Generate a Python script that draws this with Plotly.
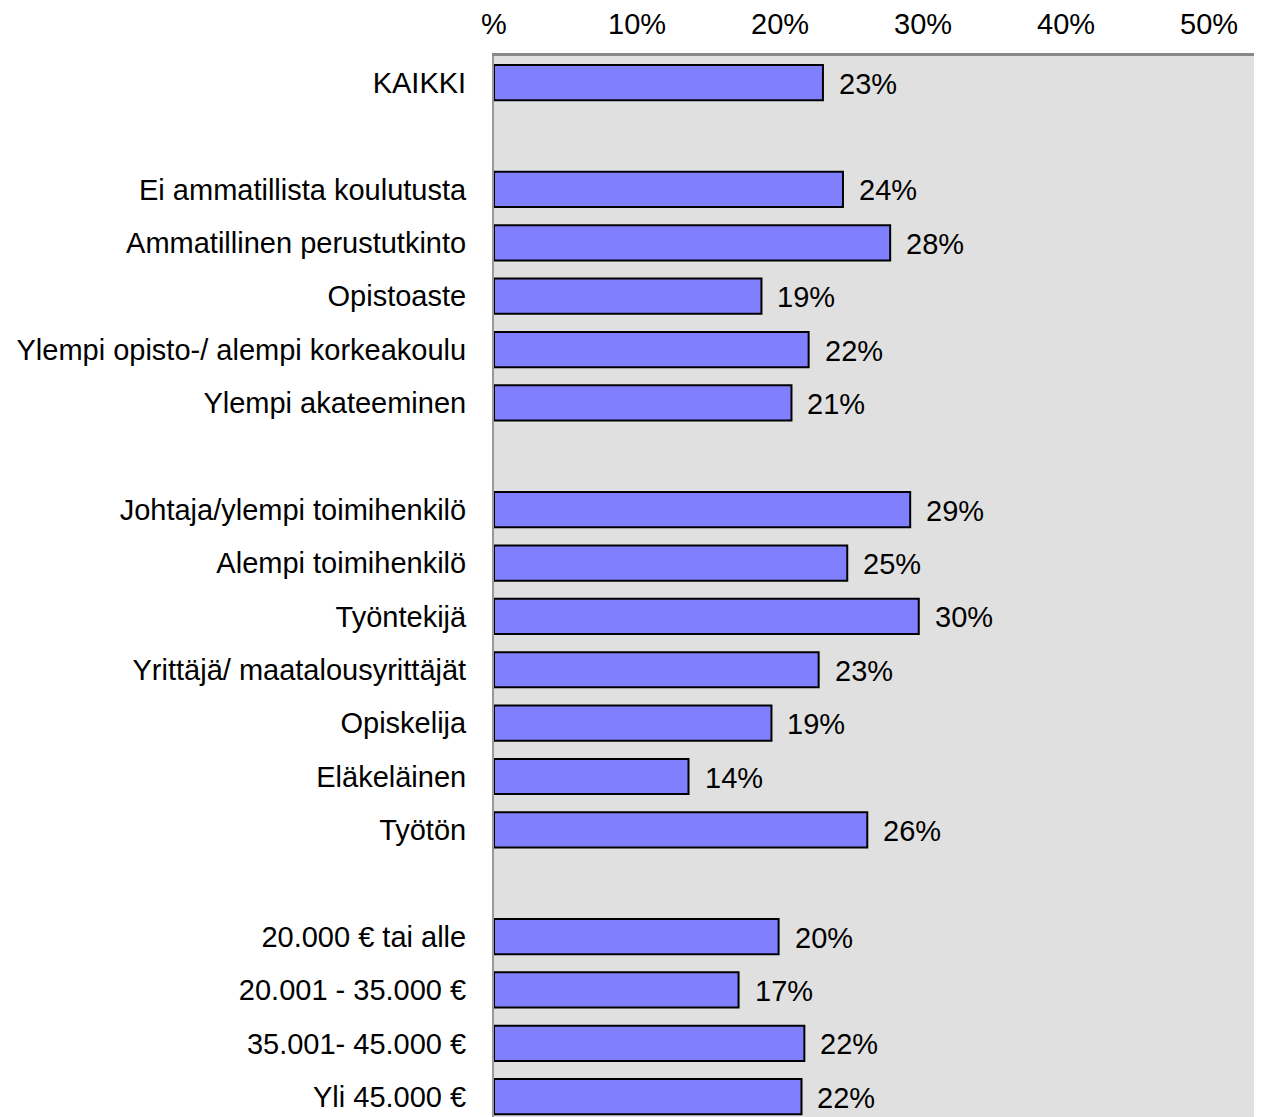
import plotly.graph_objects as go

# Rows top to bottom; blank strings are spacer rows between groups
CATEGORIES = [
    "KAIKKI",
    " ",
    "Ei ammatillista koulutusta",
    "Ammatillinen perustutkinto",
    "Opistoaste",
    "Ylempi opisto-/ alempi korkeakoulu",
    "Ylempi akateeminen",
    "  ",
    "Johtaja/ylempi toimihenkilö",
    "Alempi toimihenkilö",
    "Työntekijä",
    "Yrittäjä/ maatalousyrittäjät",
    "Opiskelija",
    "Eläkeläinen",
    "Työtön",
    "   ",
    "20.000 € tai alle",
    "20.001 - 35.000 €",
    "35.001- 45.000 €",
    "Yli 45.000 €",
]
VALUES = [
    23.0, None,
    24.4, 27.7, 18.7, 22.0, 20.8, None,
    29.1, 24.7, 29.7, 22.7, 19.4, 13.6, 26.1, None,
    19.9, 17.1, 21.7, 21.5,
]
LABELS = [
    "23%", "",
    "24%", "28%", "19%", "22%", "21%", "",
    "29%", "25%", "30%", "23%", "19%", "14%", "26%", "",
    "20%", "17%", "22%", "22%",
]
TICK_VALUES = [0, 10, 20, 30, 40, 50]
TICK_TEXT = ["%", "10%", "20%", "30%", "40%", "50%"]

FONT = "Arial, Liberation Sans, sans-serif"
FONT_SIZE = 29

fig = go.Figure(
    go.Bar(
        x=VALUES,
        y=CATEGORIES,
        orientation="h",
        width=0.66,
        marker={"color": "#8080FF", "line": {"color": "#000000", "width": 2}},
        hoverinfo="skip",
    )
)

for cat, val, lab in zip(CATEGORIES, VALUES, LABELS):
    if val is None:
        continue
    fig.add_annotation(
        x=val, y=cat, text=lab, showarrow=False,
        xanchor="left", xshift=14, yshift=-1,
        font={"size": FONT_SIZE, "color": "#000000", "family": FONT},
    )

# page body adds an 8px margin, so the figure is sized and offset to suit
fig.update_layout(
    width=1254,
    height=1109,
    margin={"l": 486, "r": 0, "t": 48, "b": 0},
    paper_bgcolor="#FFFFFF",
    plot_bgcolor="#E0E0E0",
    font={"family": FONT, "size": FONT_SIZE, "color": "#000000"},
    showlegend=False,
)
fig.update_xaxes(
    side="top",
    range=[0, 53.7],
    tickvals=TICK_VALUES,
    ticktext=TICK_TEXT,
    showgrid=False,
    zeroline=False,
    showline=True,
    linecolor="#888888",
    linewidth=3,
    ticks="",
    ticklabelstandoff=7,
    automargin=False,
)
fig.update_yaxes(
    categoryorder="array",
    categoryarray=CATEGORIES,
    range=[19.38, -0.5],
    showgrid=False,
    zeroline=False,
    showline=True,
    linecolor="#999999",
    linewidth=2,
    ticks="",
    ticklabelstandoff=20,
    automargin=False,
)

fig.write_html("out.html")
